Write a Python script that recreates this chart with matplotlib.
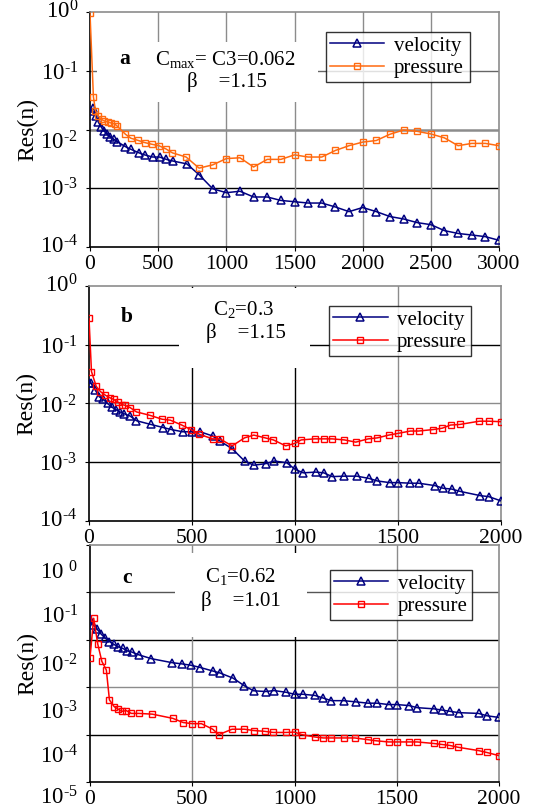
import matplotlib
matplotlib.use('Agg')
import matplotlib.pyplot as plt
import matplotlib.transforms as mtransforms
from matplotlib.patches import Rectangle

plt.rcParams['font.family'] = ['Liberation Serif', 'DejaVu Serif']
plt.rcParams['mathtext.fontset'] = 'custom'
plt.rcParams['mathtext.rm'] = 'Liberation Serif'
plt.rcParams['mathtext.it'] = 'Liberation Serif:italic'
plt.rcParams['mathtext.bf'] = 'Liberation Serif:bold'

# ---------------- data ----------------
a_vel_x = [0, 25, 45, 60, 80, 100, 125, 150, 175, 200, 260, 300, 360, 400, 460, 510, 560, 610, 710, 800,
           900, 1000, 1100, 1200, 1300, 1400, 1500, 1600, 1700, 1800, 1900, 2000, 2100, 2200, 2300, 2400,
           2500, 2600, 2700, 2800, 2900, 3000]
a_vel_y = [0.021, 0.023, 0.017, 0.0135, 0.0112, 0.0096, 0.0083, 0.0074, 0.0068, 0.0062, 0.0051, 0.0046,
           0.0040, 0.0037, 0.0034, 0.0034, 0.0031, 0.0029, 0.0026, 0.0017,
           0.00098, 0.00084, 0.00089, 0.00071, 0.00071, 0.00062, 0.00059, 0.00056, 0.00056, 0.00048,
           0.00040, 0.00047, 0.00040, 0.00033, 0.00030, 0.00026, 0.00024, 0.00019, 0.00017, 0.00016,
           0.00015, 0.00013]
a_prs_x = [0, 25, 40, 60, 85, 105, 130, 155, 180, 200, 260, 300, 355, 400, 455, 505, 555, 605, 705, 800,
           900, 1000, 1100, 1200, 1300, 1400, 1500, 1600, 1700, 1800, 1900, 2000, 2100, 2200, 2300, 2400,
           2500, 2600, 2700, 2800, 2900, 3000]
a_prs_y = [0.95, 0.036, 0.021, 0.017, 0.0148, 0.014, 0.0134, 0.0129, 0.0125, 0.0114, 0.0083, 0.0071,
           0.0065, 0.0060, 0.0056, 0.0053, 0.0047, 0.0040, 0.0034, 0.0022,
           0.0025, 0.0032, 0.0033, 0.0023, 0.0031, 0.0031, 0.0037, 0.0034, 0.0034, 0.0044, 0.0053,
           0.0061, 0.0065, 0.0083, 0.0098, 0.0093, 0.0084, 0.0072, 0.0053, 0.0058, 0.0058, 0.0053]

b_vel_x = [0, 12, 30, 50, 70, 90, 110, 130, 150, 170, 200, 230, 300, 360, 400, 455, 500, 540, 600, 635,
           695, 755, 800, 860, 900, 960, 1000, 1040, 1100, 1140, 1180, 1240, 1300, 1360, 1400, 1460,
           1500, 1560, 1600, 1680, 1720, 1760, 1800, 1900, 1940, 2000]
b_vel_y = [0.022, 0.022, 0.017, 0.013, 0.0117, 0.010, 0.0087, 0.0079, 0.0072, 0.0067, 0.0061, 0.0051,
           0.0044, 0.0039, 0.0036, 0.0033, 0.0033, 0.0033, 0.0028, 0.0023, 0.0017, 0.00105, 0.00089,
           0.00095, 0.00105, 0.00098, 0.00076, 0.00066, 0.00068, 0.00066, 0.00057, 0.00058, 0.00058,
           0.00053, 0.00048, 0.00045, 0.00045, 0.00044, 0.00044, 0.00040, 0.00036, 0.00035, 0.00032,
           0.00027, 0.00026, 0.00022]
b_prs_x = [0, 12, 35, 55, 80, 100, 120, 140, 160, 175, 200, 230, 295, 355, 395, 450, 495, 535, 600, 635,
           695, 755, 800, 855, 895, 955, 1000, 1030, 1095, 1140, 1180, 1240, 1295, 1355, 1400, 1455,
           1500, 1560, 1600, 1670, 1715, 1755, 1800, 1895, 1940, 2000]
b_prs_y = [0.28, 0.035, 0.0196, 0.016, 0.0138, 0.0126, 0.0117, 0.0106, 0.0096, 0.0093, 0.0085, 0.0072,
           0.0063, 0.0054, 0.0052, 0.0043, 0.0036, 0.0030, 0.0025, 0.0025, 0.0019, 0.0026, 0.0029,
           0.0026, 0.0024, 0.0019, 0.0021, 0.0024, 0.0025, 0.0025, 0.0025, 0.0024, 0.0022, 0.0025,
           0.0026, 0.0029, 0.0031, 0.0034, 0.0034, 0.0036, 0.0038, 0.0043, 0.0044, 0.0050, 0.0050,
           0.0049]

c_vel_x = [0, 15, 35, 55, 75, 95, 115, 135, 160, 180, 205, 240, 300, 400, 450, 495, 540, 600, 635, 700,
           755, 800, 860, 900, 960, 1000, 1040, 1100, 1140, 1180, 1240, 1300, 1360, 1405, 1460, 1500,
           1560, 1600, 1680, 1720, 1760, 1805, 1900, 1940, 2000]
c_vel_y = [0.027, 0.0207, 0.0167, 0.0131, 0.0108, 0.0092, 0.0081, 0.0072, 0.0066, 0.0059, 0.0055,
           0.0048, 0.0040, 0.0033, 0.0031, 0.0029, 0.0026, 0.0022, 0.0020, 0.00155, 0.00107, 0.00084,
           0.00081, 0.00085, 0.00078, 0.00071, 0.00071, 0.00067, 0.00059, 0.00052, 0.00052, 0.00049,
           0.00046, 0.00046, 0.00043, 0.00043, 0.00041, 0.00037, 0.00035, 0.00033, 0.00031, 0.00029,
           0.00028, 0.00025, 0.00023]
c_prs_x = [0, 18, 38, 58, 80, 95, 118, 135, 155, 178, 202, 238, 305, 405, 455, 500, 545, 600, 630, 695,
           755, 800, 855, 895, 960, 1000, 1035, 1100, 1140, 1180, 1240, 1295, 1360, 1400, 1460, 1500,
           1560, 1600, 1680, 1720, 1760, 1800, 1900, 1940, 2000]
c_prs_y = [0.0042, 0.0285, 0.0081, 0.0035, 0.0023, 0.00054, 0.00039, 0.00035, 0.00031, 0.00032,
           0.00028, 0.00028, 0.00027, 0.00022, 0.00018, 0.00017, 0.00017, 0.00013, 0.00010, 0.00013,
           0.00013, 0.000122, 0.000117, 0.000111, 0.000111, 0.000113, 0.00010, 0.000089, 0.000085,
           0.000085, 0.000085, 0.000085, 0.000078, 0.000074, 0.000070, 0.000070, 0.000070, 0.000070,
           0.000065, 0.000062, 0.000059, 0.000054, 0.000046, 0.000042, 0.000036]

series_labels = ['velocity', 'pressure']
panel_letters = ['a', 'b', 'c']
a_x_ticks = [0, 500, 1000, 1500, 2000, 2500, 3000]
bc_x_ticks = [0, 500, 1000, 1500, 2000]
ab_y_exps = [0, -1, -2, -3, -4]
c_y_exps = [0, -1, -2, -3, -4, -5]

# ---------------- figure ----------------
W, H = 533, 810
fig = plt.figure(figsize=(W / 100, H / 100), dpi=100)


def px_axes(left, top, right, bottom):
    return fig.add_axes([left / W, 1 - bottom / H, (right - left) / W, (bottom - top) / H])


NAVY = '#000080'
ORANGE = '#FF6A10'
RED = '#FF0000'
GRAY = '#8C8C8C'


def style_axes(ax, xmax, xticks, ndec, hgrid_colors, vgrid_colors, hgrid_lw=None):
    ax.set_yscale('log')
    ax.set_xlim(0, xmax)
    ax.set_ylim(10.0 ** (-ndec), 1.0)
    ax.set_xticks(xticks)
    ax.set_xticklabels([str(t) for t in xticks], fontsize=15.5)
    ax.set_yticks([10.0 ** (-k) for k in range(ndec + 1)])
    ax.yaxis.set_minor_locator(matplotlib.ticker.NullLocator())
    ax.tick_params(axis='x', direction='out', length=3, width=0.8, pad=3)
    ax.tick_params(axis='y', direction='out', length=3, width=0.8, labelleft=False)
    for i in range(1, ndec):
        lw = 1.0 if hgrid_lw is None else hgrid_lw[i - 1]
        ax.axhline(10.0 ** (-i), color=hgrid_colors[i - 1], lw=lw, zorder=1)
    for i, t in enumerate(xticks[1:-1]):
        ax.axvline(t, color=vgrid_colors[i], lw=1.0, zorder=1)
    for s in ['left', 'bottom']:
        ax.spines[s].set_color('black')
        ax.spines[s].set_linewidth(1.2)
    for s in ['top', 'right']:
        ax.spines[s].set_color(GRAY)
        ax.spines[s].set_linewidth(1.2)


def ylabels(ax, exps, offsets_px, spacer=''):
    for e, off in zip(exps, offsets_px):
        if e == 0:
            s = '10' + spacer + r'$^{0}$'
        else:
            s = '10' + r'$^{\text{-' + str(-e) + r'}}$'
        tr = mtransforms.offset_copy(ax.get_yaxis_transform(), fig=fig, x=-12 * 72 / 100,
                                     y=-off * 72 / 100, units='points')
        ax.text(0, 10.0 ** e, s, transform=tr, ha='right', va='center', fontsize=16.5)


def draw_series(ax, vx, vy, px_, py, pcolor):
    ax.plot(vx, vy, color=NAVY, lw=1.1, marker='^', ms=5.8, mfc='none', mec=NAVY, mew=1.1,
            zorder=3, label=series_labels[0])
    ax.plot(px_, py, color=pcolor, lw=1.1, marker='s', ms=4.3, mfc='none', mec=pcolor, mew=1.0,
            zorder=3, label=series_labels[1])


def legend(ax, x0, y0, x1, y1):
    leg = ax.legend(loc='center', bbox_to_anchor=(x0, y1, x1 - x0, y0 - y1), bbox_transform=ax.transAxes,
                    mode='expand', fontsize=15, frameon=True, fancybox=False, handlelength=2.6,
                    handletextpad=0.45, labelspacing=0.12, borderpad=0.2, borderaxespad=0)
    leg.get_frame().set_edgecolor('black')
    leg.get_frame().set_linewidth(1.0)
    leg.set_zorder(5)
    return leg


def text_box(ax, x, y, w, h):
    ax.add_patch(Rectangle((x, y), w, h, transform=ax.transAxes, facecolor='white',
                           edgecolor='none', zorder=1.6))


# ---- panel a ----
ax = px_axes(90, 12, 499, 247)
style_axes(ax, 3000, a_x_ticks, 4, ['#666666', GRAY, 'black'], [GRAY] * 5, [1.0, 1.8, 1.0])
ylabels(ax, ab_y_exps, [0, 3, 13, 2, 0])
text_box(ax, 0.017, 0.617, 0.54, 0.255)
draw_series(ax, a_vel_x, a_vel_y, a_prs_x, a_prs_y, ORANGE)
legend(ax, 0.577, 0.919, 0.929, 0.698)
ax.text(0.085, 0.80, panel_letters[0], transform=ax.transAxes, fontsize=15.5, fontweight='bold',
        ha='center', va='center', zorder=6)
ax.text(0.332, 0.80, r'C$_{\text{max}}$= C3=0.062', transform=ax.transAxes, fontsize=15,
        ha='center', va='center', zorder=6)
ax.text(0.335, 0.70, 'β    =1.15', transform=ax.transAxes, fontsize=15, ha='center', va='center',
        zorder=6)
ax.set_ylabel('Res(n)', fontsize=17, labelpad=34)

# ---- panel b ----
ax = px_axes(89, 286, 501, 521)
style_axes(ax, 2000, bc_x_ticks, 4, ['black', GRAY, 'black'], ['black', 'black', GRAY])
ylabels(ax, ab_y_exps, [0, 3, 3, 3, 0])
text_box(ax, 0.218, 0.651, 0.318, 0.34)
draw_series(ax, b_vel_x, b_vel_y, b_prs_x, b_prs_y, RED)
legend(ax, 0.583, 0.928, 0.927, 0.689)
ax.text(0.092, 0.868, panel_letters[1], transform=ax.transAxes, fontsize=15.5, fontweight='bold',
        ha='center', va='center', zorder=6)
ax.text(0.376, 0.898, r'C$_{2}$=0.3', transform=ax.transAxes, fontsize=15, ha='center',
        va='center', zorder=6)
ax.text(0.38, 0.80, 'β    =1.15', transform=ax.transAxes, fontsize=15, ha='center', va='center',
        zorder=6)
ax.set_ylabel('Res(n)', fontsize=17, labelpad=34)

# ---- panel c ----
ax = px_axes(90, 545, 499, 782)
style_axes(ax, 2000, bc_x_ticks, 5, ['#555555', 'black', GRAY, 'black'], [GRAY, 'black', GRAY])
ylabels(ax, c_y_exps, [28, 25, 26, 26, 22, 16], spacer=' ')
text_box(ax, 0.208, 0.612, 0.323, 0.355)
draw_series(ax, c_vel_x, c_vel_y, c_prs_x, c_prs_y, RED)
legend(ax, 0.587, 0.907, 0.934, 0.671)
ax.text(0.09, 0.86, panel_letters[2], transform=ax.transAxes, fontsize=15.5, fontweight='bold',
        ha='center', va='center', zorder=6)
ax.text(0.369, 0.865, r'C$_{1}$=0.62', transform=ax.transAxes, fontsize=15, ha='center',
        va='center', zorder=6)
ax.text(0.37, 0.764, 'β    =1.01', transform=ax.transAxes, fontsize=15, ha='center', va='center',
        zorder=6)
ax.set_ylabel('Res(n)', fontsize=17, labelpad=34)

fig.savefig('out.png', dpi=100)
